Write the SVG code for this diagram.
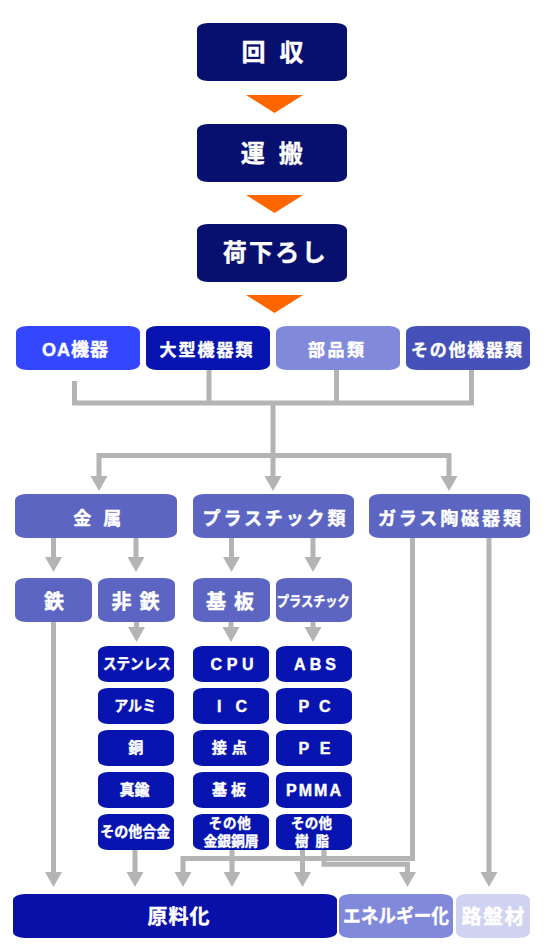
<svg xmlns="http://www.w3.org/2000/svg" width="549" height="950" viewBox="0 0 549 950">
<defs>
<style>
text{font-family:"Liberation Sans","Noto Sans CJK JP","Noto Sans CJK SC",sans-serif;font-weight:700;fill:#fff;text-anchor:middle;stroke:#fff;stroke-width:0.4px}
.c{fill:none;stroke:#b4b4b4;stroke-width:5;stroke-linejoin:miter}
.ah{fill:#b4b4b4}
.or{fill:#ff6600}
.navy{fill:#07106f}
.oa{fill:#3347ff}
.dk{fill:#0714b0}
.lav{fill:#8189db}
.mid{fill:#4650b9}
.sl{fill:#5c66c2}
.raw{fill:#0810a8}
.pale{fill:#cfd2f0}
.t24{font-size:24px}
.t17{font-size:17px}
.t18{font-size:18px}
.t20{font-size:20px}
.t15{font-size:15px}
.t16{font-size:16px}
.t13{font-size:13.5px}
</style>
<path id="ah" class="ah" d="M-8.5 0 H8.5 L0 15 Z"/>
</defs>
<rect width="549" height="950" fill="#fff"/>

<g id="connectors">
<polygon class="or" points="246,95 303,95 274.5,113"/>
<polygon class="or" points="246,195 303,195 274.5,213"/>
<polygon class="or" points="246,295 303,295 274.5,313"/>

<path class="c" d="M74.5 381 V403 H471.5 V370"/>
<path class="c" d="M209 370 V403 M336.5 370 V403"/>
<path class="c" d="M273 403 V455"/>
<path class="c" d="M99 477 V455.5 H449 V477 M273 455 V477"/>
<use href="#ah" x="99" y="476"/>
<use href="#ah" x="273" y="476"/>
<use href="#ah" x="449" y="476"/>

<path class="c" d="M53.5 538 V558 M136 538 V558 M231.5 538 V558 M313 538 V558"/>
<use href="#ah" x="53.5" y="557"/>
<use href="#ah" x="136" y="557"/>
<use href="#ah" x="231.5" y="557"/>
<use href="#ah" x="313" y="557"/>

<path class="c" d="M136.5 622 V628 M231 622 V628 M313 622 V628"/>
<use href="#ah" x="136.5" y="627"/>
<use href="#ah" x="231" y="627"/>
<use href="#ah" x="313" y="627"/>

<path class="c" d="M53.5 622 V873"/>
<path class="c" d="M412.5 538 V858.5 H183 V873"/>
<path class="c" d="M489 538 V873"/>
<path class="c" d="M135 850 V873 M232 850 V873 M302.5 850 V873"/>
<path class="c" d="M324 850 V864.2 H407.5 V873"/>
<use href="#ah" x="53.5" y="872"/>
<use href="#ah" x="135" y="872"/>
<use href="#ah" x="183" y="872"/>
<use href="#ah" x="232" y="872"/>
<use href="#ah" x="302.5" y="872"/>
<use href="#ah" x="407.5" y="872"/>
<use href="#ah" x="489" y="872"/>
</g>

<g id="n-kaishu"><rect class="navy" x="197" y="23" width="150" height="58" rx="11" ry="6"/><text class="t24" x="272.5" y="61" textLength="62">回 収</text></g>
<g id="n-unpan"><rect class="navy" x="197" y="124" width="150" height="58" rx="11" ry="6"/><text class="t24" x="271.7" y="162" textLength="62">運 搬</text></g>
<g id="n-nioroshi"><rect class="navy" x="197" y="224" width="150" height="58" rx="11" ry="6"/><text class="t24" x="274.2" y="261" textLength="103">荷下ろし</text></g>

<g id="n-oa"><rect class="oa" x="16" y="326" width="124" height="44" rx="11" ry="6"/><text class="t18" x="75.5" y="356" letter-spacing="1">OA機器</text></g>
<g id="n-ogata"><rect class="dk" x="146" y="326" width="124" height="44" rx="11" ry="6"/><text class="t17" x="206" y="356" textLength="93">大型機器類</text></g>
<g id="n-buhin"><rect class="lav" x="276" y="326" width="124" height="44" rx="11" ry="6"/><text class="t17" x="336" y="356" textLength="56">部品類</text></g>
<g id="n-sonota-kiki"><rect class="mid" x="406" y="326" width="124" height="44" rx="11" ry="6"/><text class="t17" x="466.4" y="356" textLength="111">その他機器類</text></g>

<g id="n-kinzoku"><rect class="sl" x="15" y="494" width="162" height="44" rx="11" ry="6"/><text class="t18" x="97.2" y="525" textLength="48">金 属</text></g>
<g id="n-plastic-rui"><rect class="sl" x="193" y="494" width="161" height="44" rx="11" ry="6"/><text class="t18" x="274" y="525" textLength="143">プラスチック類</text></g>
<g id="n-glass"><rect class="sl" x="369" y="494" width="161" height="44" rx="11" ry="6"/><text class="t18" x="449.4" y="525" textLength="143">ガラス陶磁器類</text></g>

<g id="n-tetsu"><rect class="sl" x="15" y="578" width="77" height="44" rx="11" ry="6"/><text class="t20" x="54" y="608.6">鉄</text></g>
<g id="n-hitetsu"><rect class="sl" x="98" y="578" width="77" height="44" rx="11" ry="6"/><text class="t20" x="135.6" y="608.6" textLength="48">非 鉄</text></g>
<g id="n-kiban"><rect class="sl" x="193" y="578" width="77" height="44" rx="11" ry="6"/><text class="t20" x="230" y="608.6" textLength="48">基 板</text></g>
<g id="n-plastic"><rect class="sl" x="276" y="578" width="76" height="44" rx="11" ry="6"/><text x="313.3" y="605.5" font-size="14" textLength="73" lengthAdjust="spacingAndGlyphs">プラスチック</text></g>

<g id="n-stainless"><rect class="dk" x="98" y="646" width="76" height="36" rx="10" ry="6"/><text class="t15" x="136.9" y="669" textLength="68" lengthAdjust="spacingAndGlyphs">ステンレス</text></g>
<g id="n-alumi"><rect class="dk" x="98" y="688" width="76" height="36" rx="10" ry="6"/><text class="t15" x="135.2" y="711" textLength="42" lengthAdjust="spacingAndGlyphs">アルミ</text></g>
<g id="n-do"><rect class="dk" x="98" y="730" width="76" height="36" rx="10" ry="6"/><text class="t15" x="135.7" y="753">銅</text></g>
<g id="n-shinchu"><rect class="dk" x="98" y="772" width="76" height="36" rx="10" ry="6"/><text class="t15" x="134.4" y="795" textLength="30">真鍮</text></g>
<g id="n-gokin"><rect class="dk" x="98" y="814" width="76" height="36" rx="10" ry="6"/><text class="t15" x="135.2" y="837" textLength="70" lengthAdjust="spacingAndGlyphs">その他合金</text></g>

<g id="n-cpu"><rect class="dk" x="193" y="646" width="76" height="36" rx="10" ry="6"/><text class="t16" x="232" y="669.5" textLength="43">CPU</text></g>
<g id="n-ic"><rect class="dk" x="193" y="688" width="76" height="36" rx="10" ry="6"/><text class="t16" x="232" y="711.5" textLength="30">I C</text></g>
<g id="n-setten"><rect class="dk" x="193" y="730" width="76" height="36" rx="10" ry="6"/><text class="t15" x="229.2" y="753" textLength="35">接 点</text></g>
<g id="n-kiban2"><rect class="dk" x="193" y="772" width="76" height="36" rx="10" ry="6"/><text class="t15" x="229" y="795" textLength="34">基 板</text></g>
<g id="n-kuzu"><rect class="dk" x="193" y="814" width="76" height="36" rx="10" ry="6"/><text class="t13" x="229.7" y="827.5" textLength="42">その他</text><text class="t13" x="231" y="846" textLength="55" lengthAdjust="spacingAndGlyphs">金銀銅屑</text></g>

<g id="n-abs"><rect class="dk" x="276" y="646" width="76" height="36" rx="10" ry="6"/><text class="t16" x="315" y="669.5" textLength="42">ABS</text></g>
<g id="n-pc"><rect class="dk" x="276" y="688" width="76" height="36" rx="10" ry="6"/><text class="t16" x="314.5" y="711.5" textLength="32">P C</text></g>
<g id="n-pe"><rect class="dk" x="276" y="730" width="76" height="36" rx="10" ry="6"/><text class="t16" x="314.5" y="753.5" textLength="32">P E</text></g>
<g id="n-pmma"><rect class="dk" x="276" y="772" width="76" height="36" rx="10" ry="6"/><text class="t16" x="313.5" y="795.5" textLength="55">PMMA</text></g>
<g id="n-jushi"><rect class="dk" x="276" y="814" width="76" height="36" rx="10" ry="6"/><text class="t13" x="311.5" y="827.5" textLength="41">その他</text><text class="t13" x="312" y="846" textLength="34">樹 脂</text></g>

<g id="n-genryo"><rect class="raw" x="13" y="894" width="324" height="44" rx="12" ry="6"/><text class="t20" x="178.4" y="923.5" textLength="62">原料化</text></g>
<g id="n-energy"><rect class="lav" x="339" y="894" width="114" height="44" rx="11" ry="6"/><text x="396" y="923" font-size="19" textLength="106" lengthAdjust="spacingAndGlyphs">エネルギー化</text></g>
<g id="n-roban"><rect class="pale" x="456" y="894" width="74" height="44" rx="11" ry="6"/><text class="t20" x="493" y="923.5" textLength="63">路盤材</text></g>
</svg>
